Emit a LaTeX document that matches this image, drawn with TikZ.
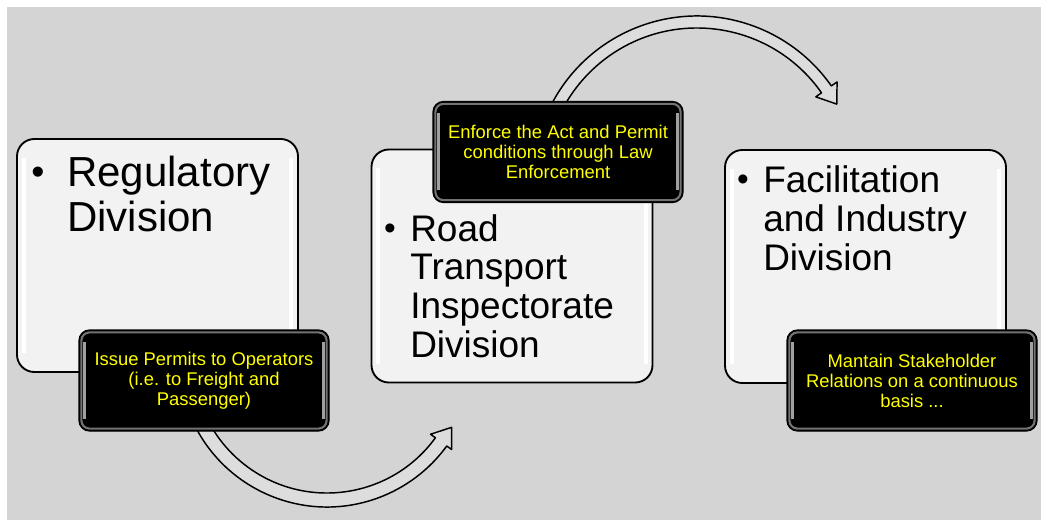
\documentclass[tikz,border=0pt]{standalone}
\usepackage{fontspec}
\setmainfont{Liberation Sans}
\usetikzlibrary{calc}

\definecolor{pagegray}{HTML}{D4D4D4}
\definecolor{boxfill}{HTML}{F2F2F2}
\definecolor{arrowfill}{HTML}{DDDDDD}
\definecolor{tasktext}{HTML}{FFFF00}

\tikzset{
  division/.style={draw=black, line width=1.4pt, fill=boxfill, rounded corners=13pt,
    minimum width=210.75pt, minimum height=174.75pt, inner sep=0pt,
    path picture={
      \draw[white, line width=3pt] ([shift={(5pt,-14pt)}]path picture bounding box.north west)
        -- ([shift={(5pt,14pt)}]path picture bounding box.south west);
      \draw[white, line width=3pt] ([shift={(-5pt,-14pt)}]path picture bounding box.north east)
        -- ([shift={(-5pt,14pt)}]path picture bounding box.south east);
    }},
  task/.style={draw=black, line width=1pt, fill=black, rounded corners=8pt,
    minimum width=187.5pt, minimum height=75.75pt, inner sep=0pt, align=center,
    text=tasktext, font=\fontsize{13.8pt}{15pt}\selectfont,
    path picture={
      \draw[black!55, line width=1.6pt, rounded corners=6pt]
        ([shift={(1.8pt,-1.8pt)}]path picture bounding box.north west)
        rectangle ([shift={(-1.8pt,1.8pt)}]path picture bounding box.south east);
      \draw[gray!75, line width=1.8pt] ([shift={(4pt,-9pt)}]path picture bounding box.north west)
        -- ([shift={(4pt,9pt)}]path picture bounding box.south west);
      \draw[gray!75, line width=1.8pt] ([shift={(-4pt,-9pt)}]path picture bounding box.north east)
        -- ([shift={(-4pt,9pt)}]path picture bounding box.south east);
    }},
  bigdivtext/.style={anchor=base west, inner sep=0pt, align=left,
    font=\fontsize{31.5pt}{33.75pt}\selectfont},
  divtext/.style={anchor=base west, inner sep=0pt, align=left,
    font=\fontsize{27.75pt}{29pt}\selectfont},
  bulletmark/.style={anchor=base, inner sep=0pt},
  bentarrow/.style={draw=black, line width=1.1pt, fill=arrowfill, line join=round},
}

\begin{document}
\begin{tikzpicture}[x=0.75pt,y=-0.75pt]
  \useasboundingbox (0,0) rectangle (1041,520);
  \fill[white] (0,0) rectangle (1041,520);
  \fill[pagegray] (7,7) rectangle (1041,520);

  % the three divisions
  \node[division] (regbox) at (157.5,255.5) {};
  \node[division] (roadbox) at (512,266) {};
  \node[division] (facbox) at (865.5,266.5) {};

  % text nodes sit on the baseline of their last line
  \node[bulletmark, font=\fontsize{28pt}{30pt}\selectfont] (regdot) at (38,185) {•};
  \node[bigdivtext] (regtext) at (67,232) {Regulatory\\Division};
  \node[bulletmark, font=\fontsize{25pt}{27pt}\selectfont] (roaddot) at (390,239) {•};
  \node[divtext] (roadtext) at (410,357) {Road\\Transport\\Inspectorate\\Division};
  \node[bulletmark, font=\fontsize{25pt}{27pt}\selectfont] (facdot) at (743,191) {•};
  \node[divtext] (factext) at (763,270) {Facilitation\\and Industry\\Division};

  % curved arrows
  \coordinate (bend1) at (327,359);
  \draw[bentarrow] ($(bend1)+(160:148)$) arc[start angle=160, end angle=36, radius=148]
    -- ($(bend1)+(36:154)$) -- ($(bend1)+(36:141)+(-54:18)$) -- ($(bend1)+(36:128)$)
    -- ($(bend1)+(36:134)$) arc[start angle=36, end angle=160, radius=134] -- cycle;
  \coordinate (bend2) at (697,180);
  \draw[bentarrow] ($(bend2)+(200:164)$) arc[start angle=200, end angle=325, radius=164]
    -- ($(bend2)+(325:171)$) -- ($(bend2)+(325:158)+(55:18)$) -- ($(bend2)+(325:145)$)
    -- ($(bend2)+(325:152)$) arc[start angle=325, end angle=200, radius=152] -- cycle;

  % tasks
  \node[task] (issue) at (204,380.5) {Issue Permits to Operators\\(i.e. to Freight and\\Passenger)};
  \node[task] (enforce) at (558,152) {Enforce the Act and Permit\\conditions through Law\\Enforcement};
  \node[task] (relations) at (912,380.5) {Mantain Stakeholder\\Relations on a continuous\\basis ...};
\end{tikzpicture}
\end{document}
